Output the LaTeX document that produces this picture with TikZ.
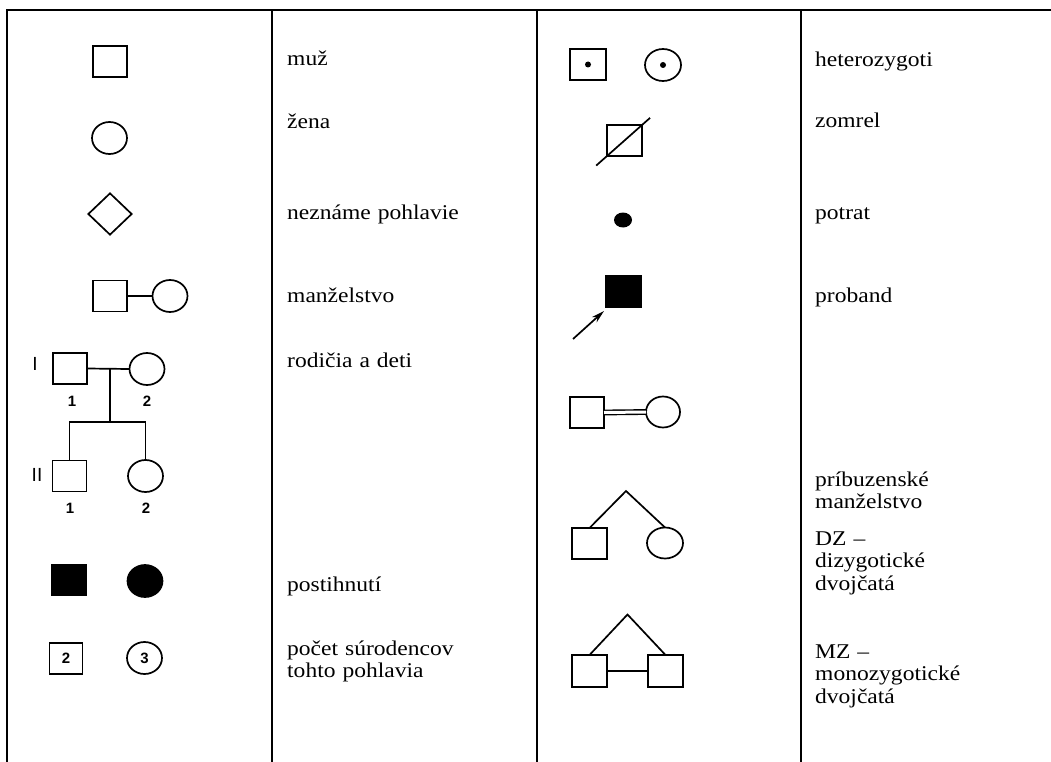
\documentclass[tikz,border=0pt]{standalone}
\usepackage{fontspec}
\setmainfont{Liberation Serif}[FakeStretch=1.12]
\newfontfamily\pedfont{Liberation Sans}
\usetikzlibrary{shapes.geometric,arrows.meta,calc}
\tikzset{
  frame/.style={line width=2.4pt, line cap=rect},
  sq/.style={draw, line width=1.7pt, rectangle, minimum width=34pt, minimum height=31pt, inner sep=0pt, outer sep=0pt},
  ci/.style={draw, line width=1.7pt, ellipse, minimum width=35pt, minimum height=32pt, inner sep=0pt, outer sep=0pt},
  conn/.style={line width=1.7pt},
  lab/.style={anchor=base west, text width=230pt, align=left, inner sep=0pt, font=\fontsize{21}{22.5}\selectfont},
  num/.style={inner sep=0pt, font=\pedfont\bfseries\fontsize{15}{15}\selectfont},
  roman/.style={inner sep=0pt, font=\pedfont\fontsize{19}{19}\selectfont}
}
\begin{document}
\begin{tikzpicture}[x=1pt, y=-1pt]
\useasboundingbox (0,0) rectangle (1051,762);
% frame
\coordinate (tl) at (7,10); \coordinate (tr) at (1051,10);
\coordinate (bl) at (7,762);
\coordinate (v1t) at (272,10); \coordinate (v1b) at (272,762);
\coordinate (v2t) at (537,10); \coordinate (v2b) at (537,762);
\coordinate (v3t) at (801,10); \coordinate (v3b) at (801,762);
\draw[frame] (bl) -- (tl) -- (tr);
\draw[frame] (v1t) -- (v1b);
\draw[frame] (v2t) -- (v2b);
\draw[frame] (v3t) -- (v3b);

% ---------- left column symbols ----------
\node[sq] (muz) at (110,61.5) {};
\node[ci] (zena) at (109.5,138) {};
\node[draw, line width=1.7pt, diamond, minimum width=44pt, minimum height=42pt, inner sep=0pt] (nez) at (110,214) {};
% marriage
\node[sq] (mm) at (110,296) {};
\node[ci] (mf) at (170,296) {};
\draw[conn] (mm.east) -- (mf.west);
% parents and children
\node[sq] (p1) at (70,368.5) {};
\node[ci] (p2) at (147,369) {};
\draw[conn] (p1.east) -- (p2.west);
\coordinate (pm) at (110,369);
\coordinate (pj) at (110,422);
\node[sq] (c1) at (69.5,476) {};
\node[ci] (c2) at (145.5,476) {};
\draw[conn] (pm) -- (pj);
\draw[conn] (c1.north) |- (pj) -| (c2.north);
\node[roman] (g1) at (35,364) {I};
\node[roman] (g2) at (37,475) {II};
\node[num] (l11) at (72,401) {1};
\node[num] (l12) at (147,401) {2};
\node[num] (l21) at (70,508) {1};
\node[num] (l22) at (146,508) {2};
% affected
\node[sq, fill=black] (am) at (69,580) {};
\node[ci, fill=black] (af) at (145,581) {};
% number of siblings
\node[sq, minimum width=33pt] (sm) at (66,658.5) {};
\node[num] (smn) at (sm.center) {2};
\node[ci] (sf) at (144.5,658) {};
\node[num] (sfn) at (sf.center) {3};

% ---------- left column text ----------
\node[lab] (t1) at (287,66) {muž};
\node[lab] (t2) at (287,129) {žena};
\node[lab] (t3) at (287,219) {neznáme pohlavie};
\node[lab] (t4) at (287,302) {manželstvo};
\node[lab] (t5) at (287,367) {rodičia a deti};
\node[lab] (t6) at (287,591) {postihnutí};
\node[lab] (t7) at (287,655) {počet súrodencov\\tohto pohlavia};

% ---------- right column symbols ----------
\node[sq, minimum width=36pt] (hm) at (588,64.5) {};
\fill (hm.center) circle (3pt);
\node[ci, minimum width=36pt] (hf) at (663,65) {};
\fill (hf.center) circle (3pt);
% deceased
\node[sq, minimum width=35pt] (dc) at (624.5,140.5) {};
\draw[conn] ($(dc.south west)!-0.31!(dc.north east)$) -- ($(dc.north east)!-0.23!(dc.south west)$);
% abortion
\node[fill=black, ellipse, minimum width=18pt, minimum height=15pt, inner sep=0pt] (ab) at (623,220) {};
% proband
\node[sq, fill=black, minimum width=35pt] (pb) at (623.5,291.5) {};
\coordinate (pa) at (573,339);
\coordinate (pt) at (604,311);
\draw[line width=1.7pt, -{Stealth[length=13pt, width=7pt]}] (pa) -- (pt);
% consanguineous
\node[sq] (km) at (587,412.5) {};
\node[ci, minimum width=34pt, minimum height=31pt] (kf) at (663,412) {};
\draw[double, double distance=3pt, line width=1.4pt] (km.east) -- (kf.west);
% DZ twins
\coordinate (dza) at (626,491);
\node[sq, minimum width=35pt] (dzm) at (589.5,543.5) {};
\node[ci, minimum width=36pt, minimum height=31pt] (dzf) at (665,543) {};
\draw[conn] (dzm.north) -- (dza) -- (dzf.north);
% MZ twins
\coordinate (mza) at (627.5,614.5);
\node[sq, minimum width=35pt, minimum height=32pt] (mz1) at (589.5,671) {};
\node[sq, minimum width=35pt, minimum height=32pt] (mz2) at (665.5,671) {};
\draw[conn] (mz1.north) -- (mza) -- (mz2.north);
\draw[conn] (mz1.east) -- (mz2.west);

% ---------- right column text ----------
\node[lab] (r1) at (815,67) {heterozygoti};
\node[lab] (r2) at (815,128) {zomrel};
\node[lab] (r3) at (815,219) {potrat};
\node[lab] (r4) at (815,302) {proband};
\node[lab] (r5) at (815,486) {príbuzenské\\manželstvo};
\node[lab] (r6) at (815,545) {DZ –\\dizygotické\\dvojčatá};
\node[lab] (r7) at (815,658) {MZ –\\monozygotické\\dvojčatá};
\end{tikzpicture}
\end{document}
